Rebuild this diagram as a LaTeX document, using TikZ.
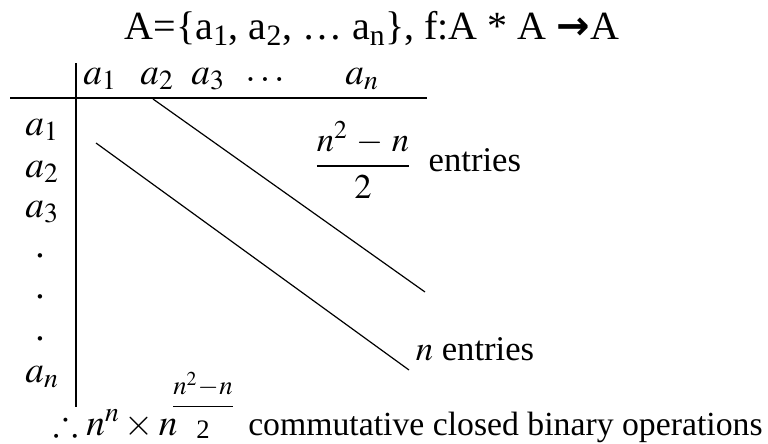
\documentclass[tikz,border=0pt]{standalone}
\usepackage{amsmath, amssymb}
\usepackage{mathptmx}
\usepackage{fontspec}
\setmainfont{Liberation Serif}
\newfontfamily\arrowfont{DejaVu Sans Bold}
\usepackage{tikz}
\usetikzlibrary{positioning}

\begin{document}
\begin{tikzpicture}[
  x=0.75pt, y=-0.75pt,
  txt/.style={inner sep=0pt, font=\fontsize{26}{30}\selectfont},
  tab/.style={inner sep=0pt, font=\fontsize{28}{32}\selectfont},
  big/.style={inner sep=0pt, font=\fontsize{30}{34}\selectfont},
  small/.style={inner sep=0pt, font=\fontsize{20}{24}\selectfont},
  rule/.style={line width=1pt},
  diag/.style={line width=0.9pt}
]
  \useasboundingbox (0,0) rectangle (768,443);

  % --- title ---
  \node[big] (title) at (372,28)
    {A=\{a\textsubscript{1}, a\textsubscript{2}, \dots\ a\textsubscript{n}\}, f:A * A {\arrowfont →}A};

  % --- table frame ---
  \coordinate (vtop) at (76,63);
  \coordinate (vbot) at (76,407);
  \coordinate (hl) at (10,98);
  \coordinate (hr) at (427,98);
  \draw[rule] (vtop) -- (vbot);
  \draw[rule] (hl) -- (hr);

  % column heads
  \node[tab] (c1) at (100,79) {$a_1$};
  \node[tab] (c2) at (157,79) {$a_2$};
  \node[tab] (c3) at (208,79) {$a_3$};
  \node[tab] (cd) at (265,80) {$\ldots$};
  \node[tab] (cn) at (362,79) {$a_n$};

  % row heads
  \node[tab] (r1) at (42,130) {$a_1$};
  \node[tab] (r2) at (42,172) {$a_2$};
  \node[tab] (r3) at (42,212) {$a_3$};
  \foreach \y [count=\k] in {256,297,339} {
    \node[tab] (rd\k) at (40,\y) {.};
  }
  \node[tab] (rn) at (42,377) {$a_n$};

  % diagonals
  \coordinate (u1) at (153,99);
  \coordinate (u2) at (425,292);
  \coordinate (l1) at (96,143);
  \coordinate (l2) at (409,370);
  \draw[diag] (u1) -- (u2);
  \draw[diag] (l1) -- (l2);

  % counts
  \node[txt] (half) at (363,160) {$\dfrac{n^2\,-\,n}{2}$};
  \node[txt, right=13pt of half] (halflbl) {entries};
  \node[txt] (nent) at (475,349) {$n$ entries};

  % --- bottom line ---
  \node[tab, anchor=base west] (pre) at (53,435) {$\therefore n^n \times n$};
  \node[small] (expo) at (203,405) {$\dfrac{n^2\!-\!n}{\rule{0pt}{21pt}\text{2}}$};
  \node[txt, anchor=base west, font=\fontsize{25.3}{30}\selectfont] (post) at (248,435)
    {commutative closed binary operations};
\end{tikzpicture}
\end{document}
